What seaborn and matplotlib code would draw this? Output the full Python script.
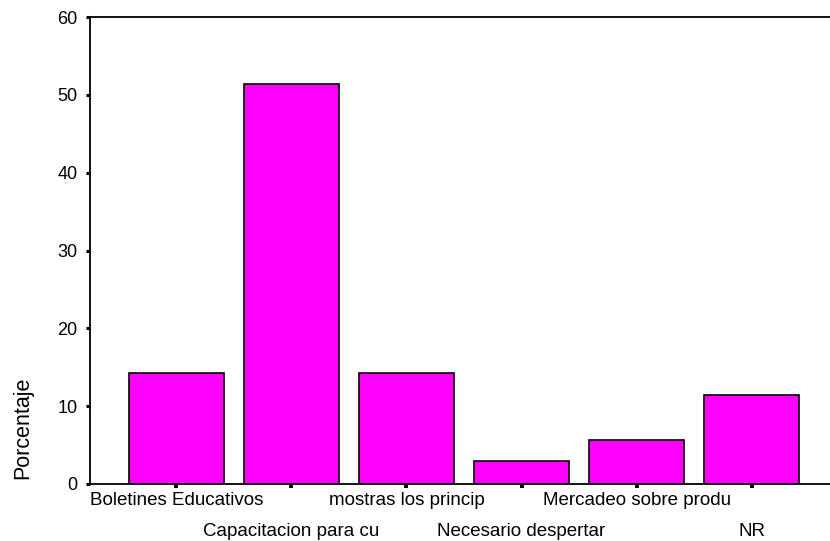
import numpy as np
import matplotlib
matplotlib.use("Agg")
import matplotlib.pyplot as plt
import seaborn as sns
import pandas as pd

categories = ["Boletines Educativos", "Capacitacion para cu", "mostras los princip",
              "Necesario despertar", "Mercadeo sobre produ", "NR"]
percentages = [14.3, 51.4, 14.3, 2.9, 5.7, 11.4]
y_ticks = [0, 10, 20, 30, 40, 50, 60]

sns.set_style("white")
plt.rcParams["font.family"] = ["Liberation Sans", "DejaVu Sans"]
plt.rcParams["text.color"] = "black"
plt.rcParams["axes.labelcolor"] = "black"
plt.rcParams["xtick.color"] = "black"
plt.rcParams["ytick.color"] = "black"

df = pd.DataFrame({"cat": categories, "pct": percentages})

fig = plt.figure(figsize=(8.3, 5.41), dpi=100)
ax = fig.add_axes([90 / 830, 57 / 541, 748 / 830, 467 / 541])

sns.barplot(data=df, x="cat", y="pct", color="#ff00ff", saturation=1,
            edgecolor="black", linewidth=1.2, width=0.83, ax=ax)

ax.set_xlim(-0.75, len(categories) - 0.25)
ax.set_ylim(0, 60)
ax.set_yticks(y_ticks)
ax.tick_params(axis="y", labelsize=13, length=3, width=2.2, direction="out",
               colors="black", pad=6, left=True)
ax.tick_params(axis="x", labelsize=13.5, length=3, width=2.8, direction="out",
               colors="black", bottom=True)

# staggered category labels, SPSS style
for i, tick in enumerate(ax.xaxis.get_major_ticks()):
    tick.set_pad(3 if i % 2 == 0 else 25)

ax.set_xlabel("")
ax.set_ylabel("Porcentaje", fontsize=15.5, color="black")
ax.yaxis.set_label_coords(-0.076, 0.12)

for side in ["left", "top", "bottom"]:
    ax.spines[side].set_visible(True)
    ax.spines[side].set_color("black")
    ax.spines[side].set_linewidth(1.3)
ax.spines["right"].set_visible(False)

fig.savefig("out.png", dpi=100)
